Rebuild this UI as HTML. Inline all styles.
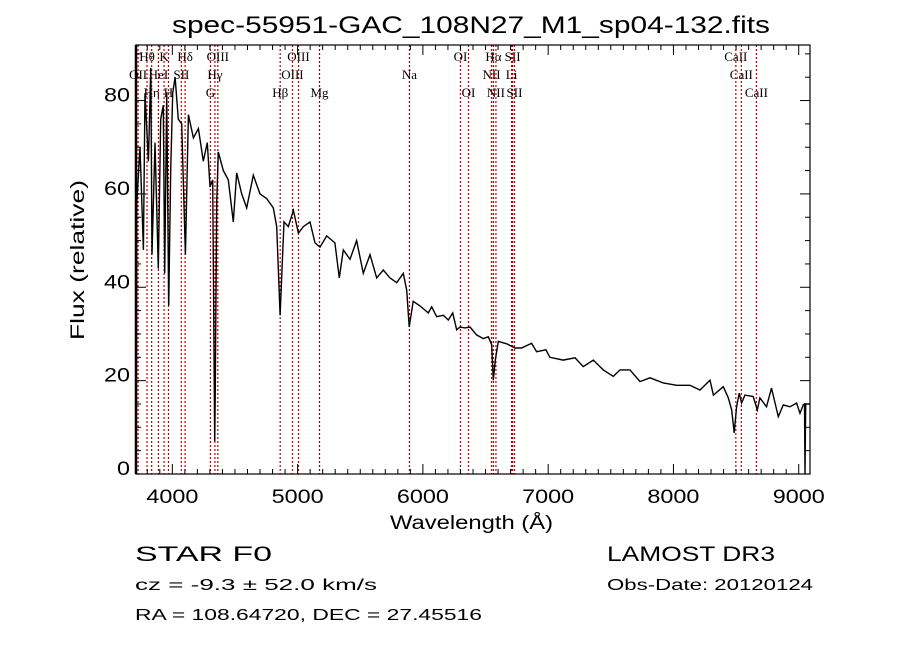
<!DOCTYPE html>
<html><head><meta charset="utf-8"><style>
html,body{margin:0;padding:0;background:#fff;}
svg{display:block;}
text{font-family:"Liberation Sans",sans-serif;fill:#000;}
.lbl{font-family:"Liberation Serif",serif;font-size:13px;}
</style></head><body>
<svg id="chart" width="900" height="649" viewBox="0 0 900 649" xmlns="http://www.w3.org/2000/svg" xml:space="preserve">
<text x="172" y="33" font-size="24" textLength="598" lengthAdjust="spacingAndGlyphs">spec-55951-GAC_108N27_M1_sp04-132.fits</text>
<text x="390" y="529" font-size="19" textLength="163" lengthAdjust="spacingAndGlyphs">Wavelength (Å)</text>
<text x="0" y="0" font-size="19" textLength="160" lengthAdjust="spacingAndGlyphs" transform="translate(84,340) rotate(-90)">Flux (relative)</text>
<text x="135" y="561" font-size="21" textLength="137" lengthAdjust="spacingAndGlyphs">STAR    F0</text>
<text x="135" y="590" font-size="16" textLength="242" lengthAdjust="spacingAndGlyphs">cz = -9.3 ± 52.0 km/s</text>
<text x="135" y="620" font-size="16" textLength="347" lengthAdjust="spacingAndGlyphs">RA = 108.64720, DEC =  27.45516</text>
<text x="607" y="561" font-size="21" textLength="168" lengthAdjust="spacingAndGlyphs">LAMOST DR3</text>
<text x="607" y="590" font-size="16" textLength="206" lengthAdjust="spacingAndGlyphs">Obs-Date: 20120124</text>
<g id="lines"></g><g id="plot"></g><g id="axes"></g>
</svg>
<script>
const wave = [3710,3712,3714,3716,3742,3769,3782,3809,3828,3838,3862,3888,3907,3928,3939,3955,3971,3987,4003,4022,4048,4075,4104,4128,4168,4208,4247,4279,4301,4322,4338,4342,4354,4367,4407,4447,4487,4514,4554,4594,4646,4700,4753,4806,4833,4860,4891,4926,4966,5006,5046,5099,5139,5179,5232,5298,5333,5365,5418,5471,5524,5578,5631,5684,5737,5791,5844,5871,5891,5923,5977,6043,6070,6110,6163,6203,6238,6270,6296,6336,6376,6429,6482,6522,6549,6562,6578,6602,6669,6735,6788,6868,6908,6982,7014,7120,7214,7280,7360,7440,7520,7573,7653,7733,7813,7919,8026,8132,8212,8292,8319,8398,8438,8465,8485,8504,8525,8544,8570,8637,8669,8690,8743,8783,8837,8877,8930,8983,9010,9036,9046,9050,9056,9066,9090];
const flux = [0,10,30,58,70,48,81.6,67,87,47,71,44,76,79,43,81.6,36,65,81.6,85,76,75,47,77,72,74,67,71,61.5,63,7,16,58,69,65,63,54,64.5,60,57,64,60,59,57,53,34,54,53,56.5,51.6,53,54,49.5,48.6,51,49.5,42,48,46,50,43,47,42,43.7,42,41,43,39.4,31.5,37,36,34.5,35.8,33.7,34,33,34.5,30.9,31.5,31.3,31.5,29.8,29,29.4,27.7,20.1,24.4,28.4,27.9,27,27,28,26.2,26.6,25,24.4,24.9,23,24.4,22.3,20.9,22.3,22.3,19.8,20.6,19.5,19,19,18,20.1,16.9,18.7,16.3,13.7,8.8,14.4,17.3,15.2,16.9,16.6,13.7,16.3,14.4,18.4,12.3,14.8,14.4,15.2,13,14.8,15,0,15,15,15];
const lineWaves = [3727,3798,3835,3889,3934,3969,4072,4102,4304,4340,4363,4861,4959,5007,5175,5893,6300,6364,6548,6563,6583,6708,6716,6731,8498,8542,8662];
const lineNames = ["OII","Hθ","Hη","HeI","K","H","SII","Hδ","G","Hγ","OIII","Hβ","OIII","OIII","Mg","Na","OI","OI","NII","Hα","NII","Li","SII","SII","CaII","CaII","CaII"];
const lineRows = [2,1,3,2,1,3,2,1,3,2,1,3,2,1,3,2,1,3,2,1,3,2,1,3,1,2,3];
const xTicks = [4000,5000,6000,7000,8000,9000];
const yTicks = [0,20,40,60,80];
const X0=136,X1=810,Y0=474,Y1=45,WMIN=3710,WMAX=9090,FMIN=0,FMAX=91.9;
function xs(w){return X0+(w-WMIN)/(WMAX-WMIN)*(X1-X0);}
function ys(f){return Y0-(f-FMIN)/(FMAX-FMIN)*(Y0-Y1);}
const NS="http://www.w3.org/2000/svg";
function mk(t,a,p){const e=document.createElementNS(NS,t);for(const k in a)e.setAttribute(k,a[k]);p.appendChild(e);return e;}
const gL=document.getElementById('lines'),gP=document.getElementById('plot'),gA=document.getElementById('axes');
const rowY={1:61,2:79,3:97};
lineWaves.forEach((w,i)=>{
  const x=xs(w);
  const l=mk('line',{x1:x,x2:x,y1:Y1,y2:Y0,stroke:'#c00000','stroke-width':1.2,'stroke-dasharray':'2,2'},gL);
  
  
  const t=mk('text',{x:x,y:rowY[lineRows[i]],'text-anchor':'middle',class:'lbl'},gL);
  t.textContent=lineNames[i];
  
  
});
let d='';
wave.forEach((w,i)=>{d+=(i?'L':'M')+xs(w).toFixed(1)+','+ys(flux[i]).toFixed(1);});
const sp=mk('path',{d:d,fill:'none',stroke:'#000','stroke-width':1.4,'stroke-linejoin':'miter'},gP);


const fr=mk('rect',{x:X0,y:Y1,width:X1-X0,height:Y0-Y1,fill:'none',stroke:'#000','stroke-width':1.2},gA);


mk('line',{x1:X0,x2:X0,y1:Y1,y2:Y0,stroke:'#000','stroke-width':2.5},gA);
for(let w=3800;w<=9000;w+=100){
  const x=xs(w),major=w%1000===0,len=major?10:5;
  mk('line',{x1:x,x2:x,y1:Y0,y2:Y0-len,stroke:'#000','stroke-width':1},gA);
  mk('line',{x1:x,x2:x,y1:Y1,y2:Y1+len,stroke:'#000','stroke-width':1},gA);
}
for(let f=0;f<=90;f+=5){
  const y=ys(f),major=f%20===0,len=major?10:5;
  mk('line',{x1:X0,x2:X0+len,y1:y,y2:y,stroke:'#000','stroke-width':1},gA);
  mk('line',{x1:X1,x2:X1-len,y1:y,y2:y,stroke:'#000','stroke-width':1},gA);
}
xTicks.forEach(w=>{
  const t=mk('text',{x:xs(w)-26,y:Y0+29,'font-size':19,textLength:52,lengthAdjust:'spacingAndGlyphs'},gA);
  t.textContent=w;
  
  
});
yTicks.forEach(f=>{
  const s=String(f);
  const t=mk('text',{x:X0-6-13*s.length,y:ys(f)+1,'font-size':19,textLength:13*s.length,lengthAdjust:'spacingAndGlyphs'},gA);
  t.textContent=s;
  
  
});
</script>
</body></html>
